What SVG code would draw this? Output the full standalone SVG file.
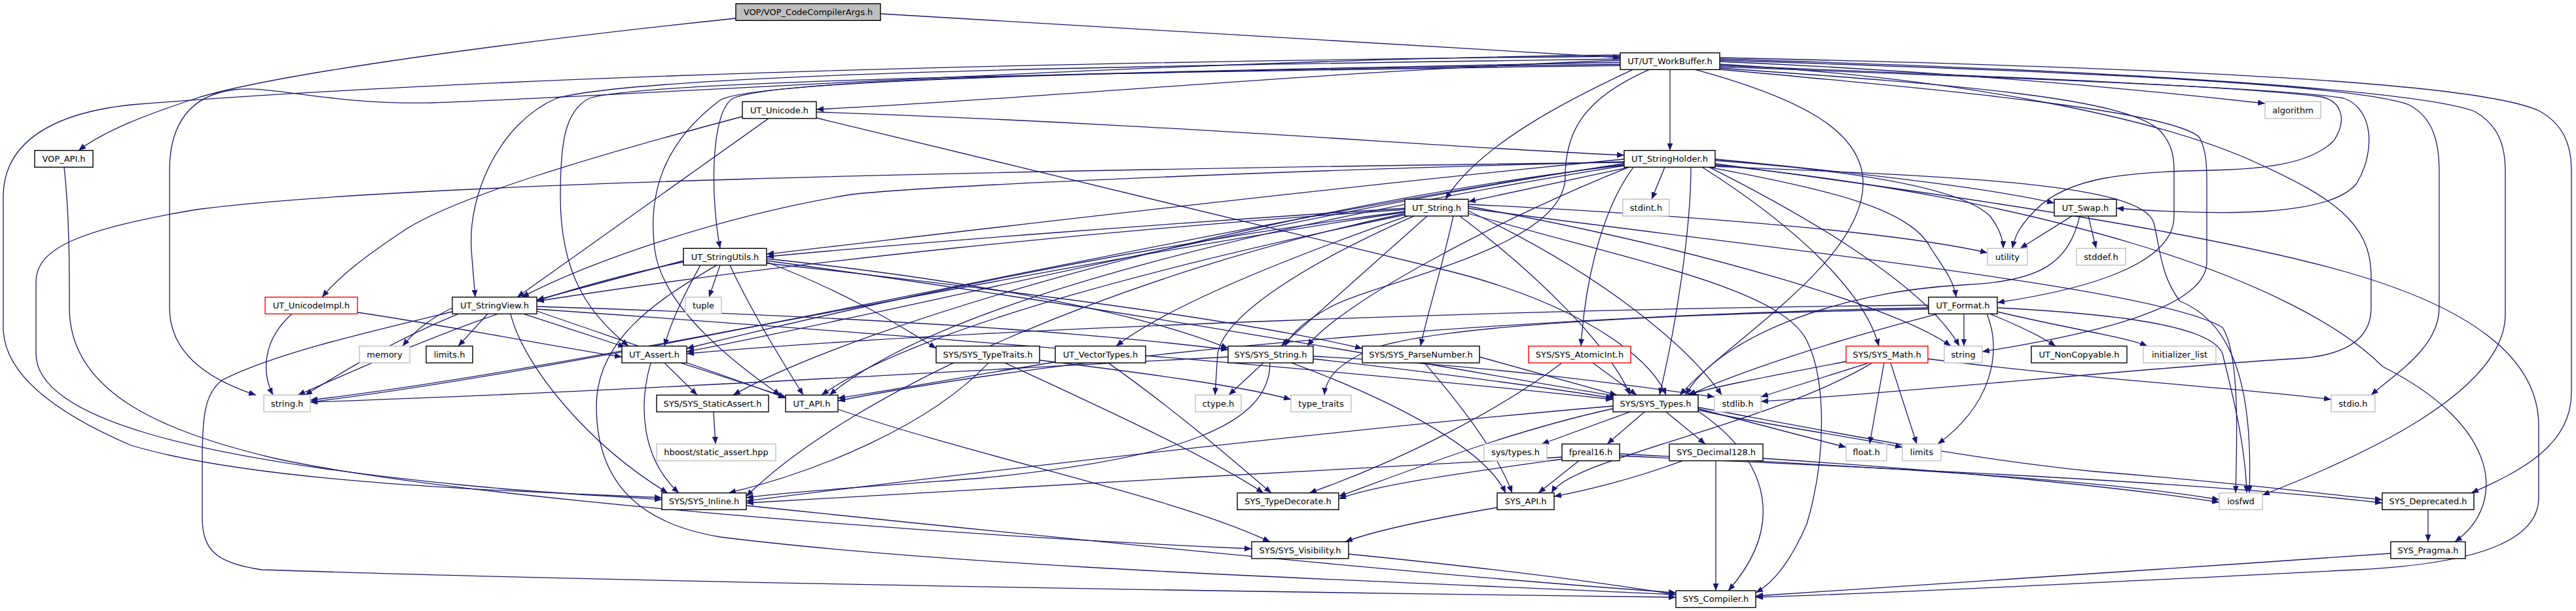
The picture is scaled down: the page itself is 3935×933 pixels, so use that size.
<svg xmlns="http://www.w3.org/2000/svg" width="3935" height="933" viewBox="0 0 3935 933">
<defs>
<marker id="a" markerUnits="userSpaceOnUse" markerWidth="12" markerHeight="9" refX="11" refY="4.5" orient="auto"><path d="M0,0 L11,4.5 L0,9 z" fill="#191970"/></marker>
<style>
.e{fill:none;stroke:#191970;stroke-width:1.3;marker-end:url(#a)}
.n rect{fill:#fff;stroke:#000;stroke-width:1.4}
.g rect{stroke:#bfbfbf}
.r rect{stroke:#ff0000}
.top rect{fill:#bfbfbf}
text{font-family:"DejaVu Sans",sans-serif;font-size:13px;text-anchor:middle;fill:#000}
</style>
</defs>
<rect width="3935" height="933" fill="#fff"/>
<g id="edges">
<path class="e" d="M1124,28 C800,62 420,112 300,150 C220,176 160,200 120,229.7"/>
<path class="e" d="M1345,21 C1800,45 2200,72 2475,88"/>
<path class="e" d="M98,255.3 C106,330 106,400 106,470 C106,600 250,660 420,700 C700,760 1400,815 1912,838"/>
<path class="e" d="M2475,92 C2000,110 1600,150 1247,167"/>
<path class="e" d="M2551,106.3 L2551,229.7"/>
<path class="e" d="M2494,106.3 C2400,150 2260,220 2208,304.3"/>
<path class="e" d="M2475,95 C1900,108 1200,115 1120,150 C1085,170 1085,300 1100,379.3"/>
<path class="e" d="M2475,90 C1800,100 1000,110 850,150 C760,190 715,300 720,380 C722,410 724,430 726,453.7"/>
<path class="e" d="M2475,100 C1800,110 1000,120 900,150 C862,170 856,220 856,300 C856,420 900,480 960,528.5"/>
<path class="e" d="M2475,98 C1800,108 1150,120 1100,153 C1010,220 990,300 1000,380 C1010,460 1100,540 1192,603.3"/>
<path class="e" d="M2475,86 C1500,95 700,120 200,160 C60,175 5,230 5,300 L5,500 C5,560 60,620 200,680 C400,740 800,750 1011,760"/>
<path class="e" d="M2519,106.3 C2420,150 2391,200 2391,270 C2391,380 2100,430 2030,470 C1995,490 1975,505 1963,528.5"/>
<path class="e" d="M2590,106.3 C2750,150 2846,200 2846,280 C2846,400 2640,520 2566,603.3"/>
<path class="e" d="M2475,84 C1800,90 900,150 660,157 C500,160 420,130 358,137 C290,145 259,190 259,260 L259,470 C259,540 320,580 391,603.3"/>
<path class="e" d="M2627,98 C3000,120 3300,180 3450,250 C3560,300 3622,340 3622,420 L3622,470 C3622,520 3580,545 3500,548 C3300,560 2900,600 2690,613"/>
<path class="e" d="M2627,92 C3200,110 3600,130 3680,160 C3718,180 3726,220 3726,260 L3726,470 C3726,530 3660,570 3622,603.3"/>
<path class="e" d="M2627,90 C3300,110 3700,140 3780,170 C3815,190 3827,220 3827,260 L3827,480 C3827,600 3600,700 3456,756"/>
<path class="e" d="M2627,88 C3400,105 3800,130 3880,170 C3915,190 3928,220 3928,260 L3928,600 C3928,680 3850,720 3775,752.7"/>
<path class="e" d="M2627,94 C3000,110 3300,140 3460,158"/>
<path class="e" d="M2627,100 C3000,115 3400,130 3540,147 C3580,152 3585,185 3565,215 C3530,250 3460,258 3380,260 C3250,262 3160,270 3110,320 C3085,345 3078,360 3074,379.3"/>
<path class="e" d="M2627,102 C3100,120 3500,135 3580,150 C3625,165 3630,230 3600,280 C3560,330 3400,330 3233,318"/>
<path class="e" d="M2627,104 C3000,130 3250,150 3300,200 C3318,220 3321,240 3321,260 L3321,330 C3321,400 3200,440 3051,462"/>
<path class="e" d="M2627,106 C3000,140 3320,170 3360,210 C3370,230 3371,250 3371,280 L3371,400 C3371,470 3200,510 3028,537"/>
<path class="e" d="M1134,178 C900,240 700,300 620,350 C560,390 520,420 492,453.7"/>
<path class="e" d="M1174,180.9 L790,453.7"/>
<path class="e" d="M1247,171 C1800,190 2200,225 2481,237"/>
<path class="e" d="M1247,180 L2210,413 C2400,460 2520,540 2545,603.3"/>
<path class="e" d="M2489,255.3 L2243,308"/>
<path class="e" d="M2543,255.3 L2523,304.3"/>
<path class="e" d="M2481,243 C2000,290 1500,350 1171,388"/>
<path class="e" d="M2481,247 C1900,262 1400,285 1300,297 C1100,330 900,400 797,453.7"/>
<path class="e" d="M2481,250 C2000,320 1400,470 1049,537"/>
<path class="e" d="M2481,253 C2000,330 1450,450 1267,603.3"/>
<path class="e" d="M2610,255.3 C2800,290 2920,320 2950,380 C2970,410 2985,430 2988,453.7"/>
<path class="e" d="M2620,243 C2900,270 3050,290 3138,310"/>
<path class="e" d="M2495,255.3 C2440,330 2420,450 2415,528.5"/>
<path class="e" d="M2600,255.3 C2750,350 2850,450 2870,528.5"/>
<path class="e" d="M2488,255.3 C2300,330 2050,460 1997,528.5"/>
<path class="e" d="M2583,255.3 C2583,350 2560,500 2535,603.3"/>
<path class="e" d="M2481,248 C1500,260 600,280 300,320 C120,350 55,380 55,430 L55,540 C55,640 300,700 700,740 C850,755 950,758 1011,763"/>
<path class="e" d="M2481,252 C1900,320 1300,500 1120,603.3"/>
<path class="e" d="M2620,250 C3000,300 3400,360 3600,420 C3800,480 3878,560 3878,650 L3878,760 C3878,820 3800,860 3600,870 C3200,890 2900,905 2682,912"/>
<path class="e" d="M2620,252 C3100,300 3500,420 3640,560 C3820,650 3830,770 3750,827.3"/>
<path class="e" d="M2620,254 C3000,270 3270,280 3290,340 C3300,380 3300,420 3330,460 C3430,500 3440,640 3436,752.7"/>
<path class="e" d="M2611,255.3 C2800,350 2950,450 2993,528.5"/>
<path class="e" d="M2620,245 C2850,262 3000,290 3040,330 C3055,350 3060,365 3060,379.3"/>
<path class="e" d="M2481,250 C1800,350 1000,550 474,614"/>
<path class="e" d="M2146,318 C1800,340 1400,370 1171,392"/>
<path class="e" d="M2146,320 C1700,350 1200,400 820,460"/>
<path class="e" d="M2146,323 C1700,380 1300,470 1049,532"/>
<path class="e" d="M2146,328 C1800,400 1400,500 1255,603.3"/>
<path class="e" d="M2150,329.9 C1950,400 1780,470 1705,528.5"/>
<path class="e" d="M2160,329.9 C2000,400 1870,480 1860,540 L1856,603.3"/>
<path class="e" d="M2180,329.9 L1957,528.5"/>
<path class="e" d="M2220,329.9 C2200,420 2180,480 2170,528.5"/>
<path class="e" d="M2230,329.9 C2350,420 2460,530 2490,603.3"/>
<path class="e" d="M2146,326 C1700,420 1300,600 1140,758"/>
<path class="e" d="M2243,326 C2500,400 2720,440 2760,520 C2790,580 2790,700 2760,800 C2730,870 2700,895 2682,905"/>
<path class="e" d="M2243,318 C2700,380 3300,440 3395,500 C3420,540 3418,650 3415,752.7"/>
<path class="e" d="M2243,315 C2600,380 2900,470 2980,528.5"/>
<path class="e" d="M2146,324 C1500,420 900,560 474,611"/>
<path class="e" d="M2243,322 C2450,420 2580,530 2630,603.3"/>
<path class="e" d="M2243,312 C2600,330 2900,355 3036,386"/>
<path class="e" d="M1100,404.9 L1083,453.7"/>
<path class="e" d="M1044,398 L820,458"/>
<path class="e" d="M1070,404.9 C1045,450 1025,490 1015,528.5"/>
<path class="e" d="M1115,404.9 C1150,480 1200,560 1227,603.3"/>
<path class="e" d="M1044,400 C800,450 600,540 455,603.3"/>
<path class="e" d="M1095,404.9 C1000,460 911,520 911,620 C911,740 980,800 1100,820 C1500,870 2200,890 2560,908"/>
<path class="e" d="M1171,398 C1700,470 2200,560 2470,605"/>
<path class="e" d="M1171,402 C1600,450 1900,490 2081,532"/>
<path class="e" d="M1171,400 C1300,450 1380,500 1430,532"/>
<path class="e" d="M1171,395 C1500,430 1750,480 1876,532"/>
<path class="e" d="M446,479.3 C400,520 400,570 417,603.3"/>
<path class="e" d="M546,477 C700,500 850,530 950,545"/>
<path class="e" d="M745,479.3 L700,528.5"/>
<path class="e" d="M691,470 C650,490 630,510 615,528.5"/>
<path class="e" d="M700,479.3 C600,520 520,570 466,603.3"/>
<path class="e" d="M800,479.3 L955,530"/>
<path class="e" d="M820,475 C950,520 1100,570 1200,608"/>
<path class="e" d="M780,479.3 C800,560 900,680 1020,752.7"/>
<path class="e" d="M820,468 C1200,480 1600,500 1876,534"/>
<path class="e" d="M820,472 C1500,520 2100,570 2464,610"/>
<path class="e" d="M691,476 C550,510 420,540 340,580 C312,600 309,640 309,700 L309,790 C309,840 330,860 400,870 C1000,890 2000,905 2560,912"/>
<path class="e" d="M2946,470 C2400,480 1700,530 1280,612"/>
<path class="e" d="M2946,466 C2400,470 1500,500 1049,540"/>
<path class="e" d="M3040,479.3 C3090,500 3120,515 3140,528.5"/>
<path class="e" d="M3000,479.3 L3000,528.5"/>
<path class="e" d="M3051,476 C3150,500 3250,515 3280,528.5"/>
<path class="e" d="M2960,479.3 C2800,520 2650,570 2580,603.3"/>
<path class="e" d="M3035,479.3 C3060,540 3040,620 2960,678"/>
<path class="e" d="M3051,470 C3250,480 3380,500 3395,540 C3410,600 3430,680 3432,752.7"/>
<path class="e" d="M2946,472 C2500,480 2150,500 2080,540 C2040,560 2025,580 2023,603.3"/>
<path class="e" d="M3165,329.9 L3086,379.3"/>
<path class="e" d="M3190,329.9 L3202,379.3"/>
<path class="e" d="M3177,329.9 C3160,400 3120,430 3000,435 C2800,445 2620,520 2575,603.3"/>
<path class="e" d="M1015,554.1 L1065,603.3"/>
<path class="e" d="M1040,554.1 L1200,606"/>
<path class="e" d="M994,554.1 C975,620 980,700 1037,752.7"/>
<path class="e" d="M1090,628.9 L1093,678"/>
<path class="e" d="M1280,625 C1500,700 1800,760 1940,827.3"/>
<path class="e" d="M1510,554.1 C1420,650 1250,720 1113,752.7"/>
<path class="e" d="M1535,554.1 C1700,630 1850,700 1930,752.7"/>
<path class="e" d="M1588,550 C1750,570 1900,590 1972,610"/>
<path class="e" d="M1612,553 C1500,570 1400,590 1280,608"/>
<path class="e" d="M1693,554.1 C1800,630 1880,700 1942,752.7"/>
<path class="e" d="M1930,554.1 L1877,603.3"/>
<path class="e" d="M1940,554.1 C1940,650 1800,700 1500,730 C1300,745 1200,752 1140,760"/>
<path class="e" d="M2006,548 C2200,570 2350,590 2464,608"/>
<path class="e" d="M1876,545 C1400,570 900,600 474,614"/>
<path class="e" d="M1973,554.1 C2150,620 2270,690 2300,752.7"/>
<path class="e" d="M2006,544 C2300,560 2500,590 2619,606"/>
<path class="e" d="M2176,554.1 C2250,640 2290,700 2310,752.7"/>
<path class="e" d="M2260,545 C2350,570 2420,590 2470,603.3"/>
<path class="e" d="M2433,554.1 L2500,603.3"/>
<path class="e" d="M2386,554.1 C2300,620 2150,700 2000,752.7"/>
<path class="e" d="M2820,552 C2700,575 2620,590 2577,603.3"/>
<path class="e" d="M2855,554.1 L2690,606"/>
<path class="e" d="M2878,554.1 L2856,678"/>
<path class="e" d="M2888,554.1 L2928,678"/>
<path class="e" d="M2860,554.1 C2700,650 2400,700 2370,752.7"/>
<path class="e" d="M2945,548 C3200,580 3450,595 3561,610"/>
<path class="e" d="M2490,628.9 L2355,678"/>
<path class="e" d="M2512,628.9 L2455,678"/>
<path class="e" d="M2545,628.9 L2605,678"/>
<path class="e" d="M2594,624 L2820,683"/>
<path class="e" d="M2594,626 C2700,650 2850,670 2906,683"/>
<path class="e" d="M2594,628 C2700,700 2730,800 2640,902"/>
<path class="e" d="M2594,622 C2800,660 3000,700 3200,720 C3450,740 3550,755 3639,763"/>
<path class="e" d="M2464,620 C2000,660 1500,720 1140,765"/>
<path class="e" d="M2464,624 C2300,660 2150,720 2045,758"/>
<path class="e" d="M2412,703.6 L2350,752.7"/>
<path class="e" d="M2386,698 C2000,720 1500,745 1140,768"/>
<path class="e" d="M2386,701 C2250,720 2100,740 2045,762"/>
<path class="e" d="M2474,693 C2800,710 3200,730 3390,763"/>
<path class="e" d="M2474,696 C3000,720 3400,740 3639,768"/>
<path class="e" d="M2570,703.6 C2500,730 2420,750 2374,758"/>
<path class="e" d="M2621,703.6 L2621,902"/>
<path class="e" d="M2693,700 C3000,720 3250,745 3390,767"/>
<path class="e" d="M2287,775 C2200,790 2100,810 2055,827.3"/>
<path class="e" d="M1140,772 C1600,820 2200,880 2560,905"/>
<path class="e" d="M2060,846 C2300,870 2450,890 2560,908"/>
<path class="e" d="M3709,778.3 L3709,827.3"/>
<path class="e" d="M3652,845 C3300,870 2900,895 2682,910"/>
</g>
<g id="node-A" class="n top"><rect x="1124" y="5.7" width="221" height="25.6"/><text x="1234.5" y="23">VOP/VOP_CodeCompilerArgs.h</text></g>
<g id="node-WB" class="n"><rect x="2475" y="80.7" width="152" height="25.6"/><text x="2551" y="98">UT/UT_WorkBuffer.h</text></g>
<g id="node-VAPI" class="n"><rect x="53" y="229.7" width="89" height="25.6"/><text x="97.5" y="247">VOP_API.h</text></g>
<g id="node-UNI" class="n"><rect x="1134" y="155.3" width="113" height="25.6"/><text x="1190.5" y="172.6">UT_Unicode.h</text></g>
<g id="node-ALG" class="n g"><rect x="3460" y="155.3" width="85" height="25.6"/><text x="3502.5" y="172.6">algorithm</text></g>
<g id="node-SH" class="n"><rect x="2481" y="229.7" width="139" height="25.6"/><text x="2550.5" y="247">UT_StringHolder.h</text></g>
<g id="node-ST" class="n"><rect x="2146" y="304.3" width="97" height="25.6"/><text x="2194.5" y="321.6">UT_String.h</text></g>
<g id="node-SINT" class="n g"><rect x="2479" y="304.3" width="71" height="25.6"/><text x="2514.5" y="321.6">stdint.h</text></g>
<g id="node-SWAP" class="n"><rect x="3138" y="304.3" width="95" height="25.6"/><text x="3185.5" y="321.6">UT_Swap.h</text></g>
<g id="node-SU" class="n"><rect x="1044" y="379.3" width="127" height="25.6"/><text x="1107.5" y="396.6">UT_StringUtils.h</text></g>
<g id="node-UTIL" class="n g"><rect x="3036" y="379.3" width="61" height="25.6"/><text x="3066.5" y="396.6">utility</text></g>
<g id="node-SDEF" class="n g"><rect x="3172" y="379.3" width="75" height="25.6"/><text x="3209.5" y="396.6">stddef.h</text></g>
<g id="node-UIMPL" class="n r"><rect x="405" y="453.7" width="141" height="25.6"/><text x="475.5" y="471">UT_UnicodeImpl.h</text></g>
<g id="node-SV" class="n"><rect x="691" y="453.7" width="129" height="25.6"/><text x="755.5" y="471">UT_StringView.h</text></g>
<g id="node-TUP" class="n g"><rect x="1047" y="453.7" width="55" height="25.6"/><text x="1074.5" y="471">tuple</text></g>
<g id="node-FMT" class="n"><rect x="2946" y="453.7" width="105" height="25.6"/><text x="2998.5" y="471">UT_Format.h</text></g>
<g id="node-MEM" class="n g"><rect x="549" y="528.5" width="77" height="25.6"/><text x="587.5" y="545.8">memory</text></g>
<g id="node-LIMH" class="n"><rect x="651" y="528.5" width="71" height="25.6"/><text x="686.5" y="545.8">limits.h</text></g>
<g id="node-AST" class="n"><rect x="950" y="528.5" width="99" height="25.6"/><text x="999.5" y="545.8">UT_Assert.h</text></g>
<g id="node-TT" class="n"><rect x="1430" y="528.5" width="158" height="25.6"/><text x="1509" y="545.8">SYS/SYS_TypeTraits.h</text></g>
<g id="node-VT" class="n"><rect x="1612" y="528.5" width="138" height="25.6"/><text x="1681" y="545.8">UT_VectorTypes.h</text></g>
<g id="node-SSTR" class="n"><rect x="1876" y="528.5" width="130" height="25.6"/><text x="1941" y="545.8">SYS/SYS_String.h</text></g>
<g id="node-PN" class="n"><rect x="2081" y="528.5" width="179" height="25.6"/><text x="2170.5" y="545.8">SYS/SYS_ParseNumber.h</text></g>
<g id="node-AI" class="n r"><rect x="2335" y="528.5" width="156" height="25.6"/><text x="2413" y="545.8">SYS/SYS_AtomicInt.h</text></g>
<g id="node-MATH" class="n r"><rect x="2820" y="528.5" width="125" height="25.6"/><text x="2882.5" y="545.8">SYS/SYS_Math.h</text></g>
<g id="node-STRG" class="n g"><rect x="2970" y="528.5" width="58" height="25.6"/><text x="2999" y="545.8">string</text></g>
<g id="node-NC" class="n"><rect x="3103" y="528.5" width="146" height="25.6"/><text x="3176" y="545.8">UT_NonCopyable.h</text></g>
<g id="node-IL" class="n g"><rect x="3274" y="528.5" width="111" height="25.6"/><text x="3329.5" y="545.8">initializer_list</text></g>
<g id="node-STRH" class="n g"><rect x="403" y="603.3" width="71" height="25.6"/><text x="438.5" y="620.6">string.h</text></g>
<g id="node-SA" class="n"><rect x="1003" y="603.3" width="171" height="25.6"/><text x="1088.5" y="620.6">SYS/SYS_StaticAssert.h</text></g>
<g id="node-UAPI" class="n"><rect x="1200" y="603.3" width="80" height="25.6"/><text x="1240" y="620.6">UT_API.h</text></g>
<g id="node-CT" class="n g"><rect x="1826" y="603.3" width="70" height="25.6"/><text x="1861" y="620.6">ctype.h</text></g>
<g id="node-TYT" class="n g"><rect x="1972" y="603.3" width="92" height="25.6"/><text x="2018" y="620.6">type_traits</text></g>
<g id="node-TYPES" class="n"><rect x="2464" y="603.3" width="130" height="25.6"/><text x="2529" y="620.6">SYS/SYS_Types.h</text></g>
<g id="node-SLIB" class="n g"><rect x="2619" y="603.3" width="71" height="25.6"/><text x="2654.5" y="620.6">stdlib.h</text></g>
<g id="node-SIO" class="n g"><rect x="3561" y="603.3" width="67" height="25.6"/><text x="3594.5" y="620.6">stdio.h</text></g>
<g id="node-HB" class="n g"><rect x="1003" y="678" width="182" height="25.6"/><text x="1094" y="695.3">hboost/static_assert.hpp</text></g>
<g id="node-STY" class="n g"><rect x="2267" y="678" width="96" height="25.6"/><text x="2315" y="695.3">sys/types.h</text></g>
<g id="node-FP" class="n"><rect x="2386" y="678" width="88" height="25.6"/><text x="2430" y="695.3">fpreal16.h</text></g>
<g id="node-DEC" class="n"><rect x="2550" y="678" width="143" height="25.6"/><text x="2621.5" y="695.3">SYS_Decimal128.h</text></g>
<g id="node-FLT" class="n g"><rect x="2820" y="678" width="62" height="25.6"/><text x="2851" y="695.3">float.h</text></g>
<g id="node-LIM" class="n g"><rect x="2906" y="678" width="59" height="25.6"/><text x="2935.5" y="695.3">limits</text></g>
<g id="node-INL" class="n"><rect x="1011" y="752.7" width="129" height="25.6"/><text x="1075.5" y="770">SYS/SYS_Inline.h</text></g>
<g id="node-TD" class="n"><rect x="1890" y="752.7" width="155" height="25.6"/><text x="1967.5" y="770">SYS_TypeDecorate.h</text></g>
<g id="node-SAPI" class="n"><rect x="2287" y="752.7" width="87" height="25.6"/><text x="2330.5" y="770">SYS_API.h</text></g>
<g id="node-IOS" class="n g"><rect x="3390" y="752.7" width="66" height="25.6"/><text x="3423" y="770">iosfwd</text></g>
<g id="node-DEP" class="n"><rect x="3639" y="752.7" width="140" height="25.6"/><text x="3709" y="770">SYS_Deprecated.h</text></g>
<g id="node-VIS" class="n"><rect x="1912" y="827.3" width="148" height="25.6"/><text x="1986" y="844.6">SYS/SYS_Visibility.h</text></g>
<g id="node-PRG" class="n"><rect x="3652" y="827.3" width="114" height="25.6"/><text x="3709" y="844.6">SYS_Pragma.h</text></g>
<g id="node-CMP" class="n"><rect x="2560" y="902" width="122" height="25.6"/><text x="2621" y="919.3">SYS_Compiler.h</text></g>
</svg>
